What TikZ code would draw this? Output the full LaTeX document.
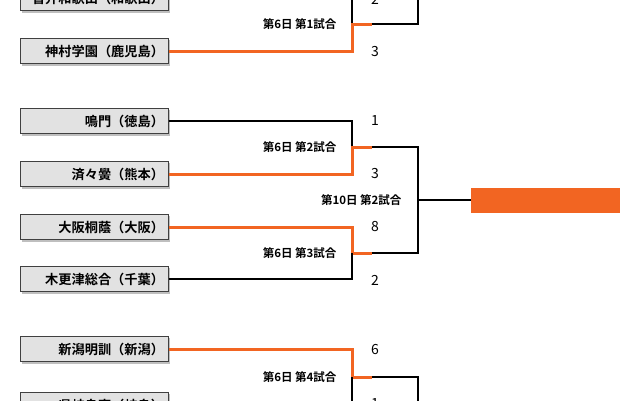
\documentclass[tikz,border=0pt]{standalone}
\usepackage{fontspec}
\newfontfamily\jp{Noto Sans CJK JP}[BoldFont={Noto Sans CJK JP Bold}]
\definecolor{org}{HTML}{F26522}
\definecolor{boxfill}{HTML}{E2E2E2}
\begin{document}
\begin{tikzpicture}[x=1pt,y=-1pt,
  team/.style={draw=black!75,line width=1pt,fill=boxfill,minimum width=148pt,minimum height=25pt,text width=140pt,align=right,inner sep=0pt,font=\jp\bfseries\fontsize{13.2}{15}\selectfont},
  score/.style={font=\jp\fontsize{14}{16}\selectfont},
  match/.style={font=\jp\bfseries\fontsize{11.5}{13}\selectfont,anchor=east},
  lose/.style={black,line width=1.6pt},
  win/.style={org,line width=3pt}]
\useasboundingbox (0,0) rectangle (640,400);
\clip (0,0) rectangle (640,400);
\foreach \n/\y/\t in {t1/-2/智弁和歌山（和歌山）,t2/51/神村学園（鹿児島）,t3/121/鳴門（徳島）,t4/174/済々黌（熊本）,t5/227/大阪桐蔭（大阪）,t6/279/木更津総合（千葉）,t7/349/新潟明訓（新潟）,t8/405/県岐阜商（岐阜）}{
  \fill[black!25] (21.5,\y-11) rectangle (170,\y+14.5);
  \node[team] (\n) at (94,\y) {\t};
}
\foreach \n/\y in {a/24,b/147,c/253,d/377}{
  \coordinate (\n0) at (352,\y);
  \coordinate (\n1) at (372,\y);
  \coordinate (\n2) at (418,\y);
}
\coordinate (top) at (418,-5);
\coordinate (bot) at (418,405);
\coordinate (f0) at (418,200);
\draw[lose] (t1.east) -| (a0);
\draw[lose] (a1) -- (a2) -- (top);
\draw[win] (t2.east) -| (a0) -- (a1);
\draw[lose] (t3.east) -| (b0);
\draw[win] (t4.east) -| (b0) -- (b1);
\draw[win] (t5.east) -| (c0) -- (c1);
\draw[lose] (t6.east) -| (c0);
\draw[win] (t7.east) -| (d0) -- (d1);
\draw[lose] (t8.east) -| (d0);
\draw[lose] (d1) -- (d2) -- (bot);
\draw[lose] (b1) -- (b2) -- (c2) -- (c1);
\node[fill=org,minimum width=149pt,minimum height=25pt,inner sep=0pt] (fin) at (545.5,200) {};
\draw[lose] (f0) -- (fin.west);
\node[match] (m1) at (340,24) {第6日 第1試合};
\node[match] (m2) at (340,147) {第6日 第2試合};
\node[match] (m3) at (340,253) {第6日 第3試合};
\node[match] (m4) at (340,377) {第6日 第4試合};
\node[match] (m5) at (405,200) {第10日 第2試合};
\foreach \n/\y/\s in {s1/-1/2,s2/52/3,s3/121/1,s4/174/3,s5/227/8,s6/280/2,s7/350/6,s8/404/1}{
  \node[score] (\n) at (375,\y) {\s};
}
\end{tikzpicture}
\end{document}
